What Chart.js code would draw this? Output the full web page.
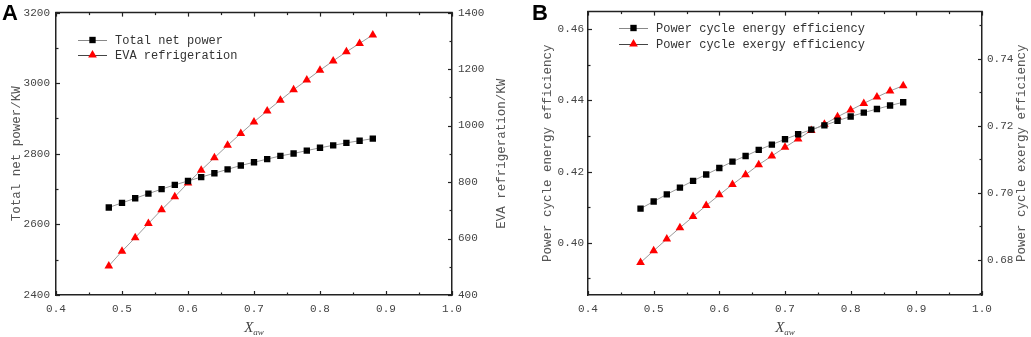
<!DOCTYPE html>
<html>
<head>
<meta charset="utf-8">
<script src="https://cdn.jsdelivr.net/npm/chart.js@4.4.1/dist/chart.umd.min.js"></script>
<style>
  html, body { margin:0; padding:0; background:#fff; }
  body { width:1031px; height:337px; position:relative; overflow:hidden; }
  .panel { position:absolute; top:0; height:337px; }
  #wrapA { left:0; width:515px; }
  #wrapB { left:515px; width:516px; }
</style>
</head>
<body>
<div id="wrapA" class="panel"><canvas id="chartA" width="515" height="337"></canvas></div>
<div id="wrapB" class="panel"><canvas id="chartB" width="516" height="337"></canvas></div>
<script>
// ---------------- DATA ----------------
const xValues = [0.48,0.50,0.52,0.54,0.56,0.58,0.60,0.62,0.64,0.66,0.68,0.70,0.72,0.74,0.76,0.78,0.80,0.82,0.84,0.86,0.88];
const totalNetPower = [2648,2661,2674,2687,2700,2712,2723,2734,2745,2756,2767,2776,2785,2794,2801,2809,2817,2824,2831,2837,2843];
const evaRefrigeration = [503,555,603,653,702,748,797,842,886,930,972,1013,1052,1090,1127,1161,1196,1229,1261,1291,1321];
const energyEfficiency = [0.4096,0.4116,0.4136,0.4155,0.4174,0.4192,0.4210,0.4228,0.4244,0.4261,0.4276,0.4291,0.4305,0.4318,0.4330,0.4343,0.4355,0.4366,0.4376,0.4386,0.4395];
const exergyEfficiency = [0.6792,0.6827,0.6862,0.6896,0.6929,0.6962,0.6994,0.7025,0.7054,0.7084,0.7110,0.7136,0.7161,0.7186,0.7205,0.7227,0.7247,0.7267,0.7286,0.7304,0.7320];

const xTicks = [0.4,0.5,0.6,0.7,0.8,0.9,1.0];
const aLeftTicks = [2400,2600,2800,3000,3200];
const aRightTicks = [400,600,800,1000,1200,1400];
const bLeftTicks = [0.40,0.42,0.44,0.46];
const bRightTicks = [0.68,0.70,0.72,0.74];

const seriesNamesA = ['Total net power','EVA refrigeration'];
const seriesNamesB = ['Power cycle energy efficiency','Power cycle exergy efficiency'];
const axisTitlesA = ['Total net power/KW','EVA refrigeration/KW'];
const axisTitlesB = ['Power cycle energy efficiency','Power cycle exergy efficiency'];
// --------------------------------------

const MONO = '"Liberation Mono", "DejaVu Sans Mono", monospace';
Chart.defaults.font.family = MONO;
Chart.defaults.color = '#444';

function pts(xs, ys){ return xs.map((x,i)=>({x:x, y:ys[i]})); }
function minorsOf(major, min, max){
  const step = major[1]-major[0];
  const out = [];
  const cand = [major[0]-step/2, ...major.map(v=>v+step/2)];
  cand.forEach(v=>{ if (v>min+1e-9 && v<max-1e-9) out.push(v); });
  return out;
}

function drawMarker(ctx, style, x, y, r, color){
  ctx.fillStyle = color;
  ctx.beginPath();
  if (style === 'rect'){
    const s = Math.SQRT1_2*r;
    ctx.rect(x-s, y-s, 2*s, 2*s);
  } else {
    const h = 2*Math.PI/3;
    let a = 0;
    ctx.moveTo(x+Math.sin(a)*r, y-Math.cos(a)*r); a+=h;
    ctx.lineTo(x+Math.sin(a)*r, y-Math.cos(a)*r); a+=h;
    ctx.lineTo(x+Math.sin(a)*r, y-Math.cos(a)*r);
    ctx.closePath();
  }
  ctx.fill();
}

const decorPlugin = {
  id: 'decor',
  afterDraw(chart, args, o){
    const {ctx, chartArea:a} = chart;
    const xs = chart.scales.x, yl = chart.scales.y, yr = chart.scales.y1;
    ctx.save();
    ctx.strokeStyle = '#222';
    ctx.lineWidth = 1.5;
    ctx.beginPath(); ctx.moveTo(a.left-0.75, a.top); ctx.lineTo(a.right+0.75, a.top); ctx.stroke();
    ctx.lineWidth = 1.2;
    function seg(x1,y1,x2,y2){ ctx.beginPath(); ctx.moveTo(x1,y1); ctx.lineTo(x2,y2); ctx.stroke(); }
    const MJ = 4, MN = 2.5;
    o.xMajor.forEach(v=>{ const p = Math.round(xs.getPixelForValue(v))+0.5; seg(p,a.bottom,p,a.bottom-MJ); seg(p,a.top,p,a.top+MJ); });
    minorsOf(o.xMajor, xs.min, xs.max).forEach(v=>{ const p = Math.round(xs.getPixelForValue(v))+0.5; seg(p,a.bottom,p,a.bottom-MN); seg(p,a.top,p,a.top+MN); });
    o.lMajor.forEach(v=>{ const p = Math.round(yl.getPixelForValue(v))+0.5; seg(a.left,p,a.left+MJ,p); });
    minorsOf(o.lMajor, yl.min, yl.max).forEach(v=>{ const p = Math.round(yl.getPixelForValue(v))+0.5; seg(a.left,p,a.left+MN,p); });
    o.rMajor.forEach(v=>{ const p = Math.round(yr.getPixelForValue(v))+0.5; seg(a.right,p,a.right-MJ,p); });
    minorsOf(o.rMajor, yr.min, yr.max).forEach(v=>{ const p = Math.round(yr.getPixelForValue(v))+0.5; seg(a.right,p,a.right-MN,p); });

    // axis titles
    ctx.fillStyle = '#555';
    ctx.font = '12.5px ' + MONO;
    ctx.textAlign = 'center';
    ctx.textBaseline = 'middle';
    const cy = (a.top+a.bottom)/2;
    [[o.leftTitle, o.leftTitleX],[o.rightTitle, o.rightTitleX]].forEach(([t,x])=>{
      ctx.save(); ctx.translate(x, cy); ctx.rotate(-Math.PI/2); ctx.fillText(t, 0, 0); ctx.restore();
    });
    // x title: X with subscript aw
    const cx = xs.getPixelForValue(0.7);
    ctx.textAlign = 'left';
    ctx.textBaseline = 'alphabetic';
    ctx.fillStyle = '#444';
    ctx.font = 'italic 15px "Liberation Serif", serif';
    const wX = ctx.measureText('X').width;
    ctx.font = 'italic 9px "Liberation Serif", serif';
    const wS = ctx.measureText('aw').width;
    const x0 = cx - (wX + wS)/2;
    ctx.font = 'italic 15px "Liberation Serif", serif';
    ctx.fillText('X', x0, 332);
    ctx.font = 'italic 9px "Liberation Serif", serif';
    ctx.fillText('aw', x0 + wX, 335);

    // legend
    ctx.font = '12px ' + MONO;
    ctx.textBaseline = 'middle';
    chart.data.datasets.forEach((ds,i)=>{
      const y = o.legY + i*o.legDy;
      ctx.strokeStyle = i===0 ? '#888' : '#444';
      ctx.lineWidth = 1;
      seg(o.legX, y+0.5, o.legX+29, y+0.5);
      drawMarker(ctx, ds.pointStyle, o.legX+14.5, y, ds.pointRadius, ds.pointBackgroundColor);
      ctx.fillStyle = '#333';
      ctx.fillText(ds.label, o.legX+37, y+1);
    });

    // panel letter
    ctx.fillStyle = '#000';
    ctx.font = 'bold 22px "Liberation Sans", Arial, sans-serif';
    ctx.textBaseline = 'top';
    ctx.fillText(o.letter, o.letterX, 3);
    ctx.restore();
  }
};

function makeChart(id, cfg){
  const yTickFmt = cfg.fmtY;
  const tickFont = { size: 11 };
  return new Chart(document.getElementById(id), {
    type: 'scatter',
    data: {
      datasets: [
        { label: cfg.names[0], data: pts(xValues, cfg.s1), yAxisID: 'y', showLine: true,
          borderColor: '#9a9a9a', borderWidth: 1, pointStyle: 'rect', pointRadius: 4.5,
          pointBackgroundColor: '#000', pointBorderWidth: 0, pointHoverRadius: 4.5 },
        { label: cfg.names[1], data: pts(xValues, cfg.s2), yAxisID: 'y1', showLine: true,
          borderColor: '#9a9a9a', borderWidth: 1, pointStyle: 'triangle', pointRadius: 5,
          pointBackgroundColor: '#ff0000', pointBorderWidth: 0, pointHoverRadius: 5 }
      ]
    },
    options: {
      responsive: false, animation: false, devicePixelRatio: 1,
      layout: { padding: { top: 5, left: 0, right: 0, bottom: 0 } },
      plugins: { legend: { display: false }, tooltip: { enabled: false }, decor: cfg.decor },
      scales: {
        x: { type: 'linear', position: 'bottom', min: 0.4, max: 1.0,
          grid: { display: false, drawTicks: false },
          border: { display: true, color: '#222', width: 1.5 },
          afterBuildTicks: s => { s.ticks = xTicks.map(v=>({value:v})); },
          afterFit: s => { s.height = 42; },
          ticks: { padding: 7, color: '#444', font: tickFont, callback: v => v.toFixed(1) } },
        y: { type: 'linear', position: 'left', min: cfg.lMin, max: cfg.lMax,
          grid: { display: false, drawTicks: false },
          border: { display: true, color: '#222', width: 1.5 },
          afterBuildTicks: s => { s.ticks = cfg.lTicks.map(v=>({value:v})); },
          afterFit: s => { s.width = cfg.lW; },
          ticks: { padding: cfg.lPad, color: '#444', font: tickFont, callback: v => yTickFmt(v) } },
        y1: { type: 'linear', position: 'right', min: cfg.rMin, max: cfg.rMax,
          grid: { display: false, drawTicks: false },
          border: { display: true, color: '#222', width: 1.5 },
          afterBuildTicks: s => { s.ticks = cfg.rTicks.map(v=>({value:v})); },
          afterFit: s => { s.width = cfg.rW; },
          ticks: { padding: cfg.rPad, color: '#444', font: tickFont, callback: v => yTickFmt(v) } }
      }
    },
    plugins: [decorPlugin]
  });
}

makeChart('chartA', {
  names: seriesNamesA, s1: totalNetPower, s2: evaRefrigeration,
  lMin: 2400, lMax: 3200, lTicks: aLeftTicks, lW: 56, lPad: 6,
  rMin: 400, rMax: 1400, rTicks: aRightTicks, rW: 63, rPad: 6,
  fmtY: v => String(Math.round(v)),
  decor: { xMajor: xTicks, lMajor: aLeftTicks, rMajor: aRightTicks,
    leftTitle: axisTitlesA[0], leftTitleX: 17, rightTitle: axisTitlesA[1], rightTitleX: 502,
    legX: 78, legY: 40, legDy: 15, letter: 'A', letterX: 2 }
});

makeChart('chartB', {
  names: seriesNamesB, s1: energyEfficiency, s2: exergyEfficiency,
  lMin: 0.3853, lMax: 0.4650, lTicks: bLeftTicks, lW: 73, lPad: 4,
  rMin: 0.6695, rMax: 0.7541, rTicks: bRightTicks, rW: 49, rPad: 5,
  fmtY: v => v.toFixed(2),
  decor: { xMajor: xTicks, lMajor: bLeftTicks, rMajor: bRightTicks,
    leftTitle: axisTitlesB[0], leftTitleX: 33, rightTitle: axisTitlesB[1], rightTitleX: 507,
    legX: 104, legY: 28, legDy: 16, letter: 'B', letterX: 17 }
});
</script>
</body>
</html>
